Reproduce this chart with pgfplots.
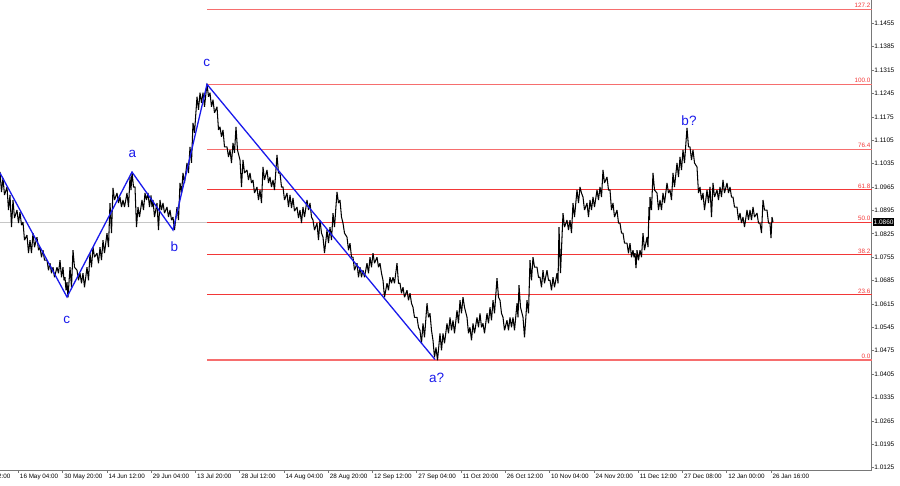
\documentclass[border=0pt]{standalone}
\usepackage{fontspec}
\setmainfont{Liberation Sans}
\usepackage{pgfplots}
\pgfplotsset{compat=1.18}
\definecolor{fibred}{RGB}{242,55,55}
\definecolor{fibpink}{RGB}{246,110,110}
\definecolor{wave}{RGB}{25,25,235}
\definecolor{axgray}{RGB}{120,120,120}

\pgfplotstableread{
x y
0 1.1010
1.5 1.0950
3 1.0992
4.5 1.0941
7 1.0965
8.5 1.0896
10 1.0941
11.5 1.0845
13 1.0926
14.5 1.0872
17 1.0896
18.5 1.0857
20 1.0890
21.5 1.0851
23 1.0860
24.5 1.0806
27 1.0821
28.5 1.0767
30 1.0806
31.5 1.0767
33 1.0827
34.5 1.0785
37 1.0815
38.5 1.0776
40 1.0785
41.5 1.0755
43 1.0776
44.5 1.0746
47 1.0746
48.5 1.0716
50 1.0737
51.5 1.0707
53 1.0725
54.5 1.0695
57 1.0725
58.5 1.0707
60 1.0746
61.5 1.0695
63 1.0725
64 1.0686
65 1.0695
66 1.0656
67 1.0680
68 1.0635
70 1.0725
71.5 1.0665
73 1.0776
74.5 1.0725
77 1.0716
78.5 1.0686
80 1.0707
81.5 1.0677
83 1.0707
84.5 1.0665
87 1.0725
88.5 1.0686
90 1.0767
91.5 1.0725
93 1.0785
94.5 1.0755
97 1.0767
98.5 1.0737
100 1.0785
101.5 1.0746
103 1.0806
104.5 1.0767
107 1.0827
108.5 1.0785
110 1.0917
111.5 1.0827
113 1.0962
114.5 1.0926
117 1.0947
118.5 1.0917
120 1.0935
121.5 1.0905
123 1.0926
124.5 1.0905
127 1.0947
128.5 1.0905
130 1.0995
131 1.0956
132 1.1010
133.5 1.0965
135 1.0965
136.5 1.0845
138 1.0905
139.5 1.0875
142 1.0926
143.5 1.0896
145 1.0947
146.5 1.0926
148 1.0947
149.5 1.0905
151 1.0940
152 1.0905
153 1.0926
154.5 1.0875
157 1.0917
158.5 1.0836
160 1.0926
161.5 1.0896
163 1.0917
164.5 1.0887
167 1.0905
168.5 1.0875
170 1.0896
171.5 1.0866
173 1.0875
174.5 1.0836
177 1.0905
178.5 1.0866
180 1.0977
181.5 1.0947
183 1.1007
184.5 1.0977
187 1.1037
188.5 1.1007
190 1.1085
191.5 1.1037
193 1.1157
194.5 1.1127
197 1.1235
198.5 1.1196
200 1.1247
201.5 1.1217
203 1.1247
204.5 1.1205
207 1.1274
208.5 1.1235
210 1.1247
211.5 1.1205
213 1.1226
214.5 1.1187
217 1.1205
218.5 1.1136
220 1.1145
221.5 1.1115
223 1.1136
224.5 1.1085
227 1.1085
228.5 1.1055
230 1.1076
231.5 1.1037
233 1.1097
234.5 1.1067
236 1.1145
237.5 1.1076
240 1.1046
241.5 1.0965
243 1.1046
244.5 1.1007
247 1.1016
248.5 1.0986
250 1.1007
251.5 1.0977
253 1.0986
254.5 1.0947
257 1.0965
258.5 1.0926
260 1.0956
261.5 1.0917
263 1.1025
264.5 1.0986
267 1.1016
268.5 1.0977
270 1.0995
271.5 1.0965
273 1.0986
274.5 1.0956
277 1.1061
278.5 1.1007
280 1.1007
281.5 1.0965
283 1.0965
284.5 1.0926
287 1.0947
288.5 1.0905
290 1.0941
291.5 1.0902
293 1.0932
294.5 1.0893
297 1.0905
298.5 1.0872
300 1.0896
301.5 1.0857
303 1.0905
304.5 1.0875
307 1.0926
308.5 1.0896
310 1.0917
311.5 1.0875
313 1.0866
314.5 1.0836
317 1.0857
318.5 1.0806
320 1.0866
321.5 1.0827
323 1.0815
324.5 1.0767
327 1.0836
328.5 1.0797
330 1.0845
331.5 1.0806
333 1.0887
334.5 1.0845
337 1.0950
338.5 1.0917
340 1.0926
341.5 1.0875
343 1.0857
344.5 1.0827
347 1.0815
348.5 1.0776
350 1.0797
351.5 1.0755
353 1.0755
354.5 1.0716
357 1.0737
358.5 1.0695
360 1.0725
361.5 1.0695
363 1.0716
364.5 1.0695
367 1.0737
368.5 1.0707
370 1.0755
371.5 1.0725
373 1.0767
374.5 1.0737
377 1.0755
378.5 1.0725
380 1.0737
381.5 1.0707
383 1.0686
384.5 1.0635
387 1.0677
388.5 1.0656
390 1.0695
391.5 1.0677
393 1.0695
394.5 1.0677
397 1.0737
398.5 1.0677
400 1.0677
401.5 1.0647
403 1.0665
404.5 1.0635
407 1.0656
408.5 1.0626
410 1.0647
411.5 1.0617
413 1.0605
414.5 1.0575
417 1.0575
418.5 1.0545
420 1.0536
421.5 1.0497
423 1.0557
424.5 1.0515
427 1.0617
428.5 1.0575
430 1.0587
431.5 1.0536
433 1.0506
434.5 1.0455
436 1.0485
437.5 1.0446
440 1.0527
441.5 1.0476
443 1.0527
444.5 1.0497
447 1.0557
448.5 1.0527
450 1.0575
451.5 1.0536
453 1.0566
454.5 1.0527
457 1.0596
458.5 1.0557
460 1.0626
461.5 1.0587
463 1.0635
464.5 1.0605
467 1.0575
468.5 1.0527
470 1.0545
471.5 1.0506
473 1.0557
474.5 1.0527
477 1.0575
478.5 1.0545
480 1.0587
481.5 1.0545
483 1.0557
484.5 1.0527
487 1.0587
488.5 1.0557
490 1.0605
491.5 1.0566
493 1.0626
494.5 1.0587
497 1.0692
498.5 1.0635
500 1.0626
501.5 1.0587
503 1.0575
504.5 1.0536
507 1.0566
508.5 1.0536
510 1.0575
511.5 1.0545
513 1.0575
514.5 1.0536
517 1.0617
518 1.0575
519 1.0671
520.5 1.0605
523 1.0575
524.5 1.0515
527 1.0626
528.5 1.0587
530 1.0746
531.5 1.0686
533 1.0755
534.5 1.0725
537 1.0725
538.5 1.0695
540 1.0695
541.5 1.0665
543 1.0716
544.5 1.0677
547 1.0716
548.5 1.0686
550 1.0686
551.5 1.0656
553 1.0695
554.5 1.0665
557 1.0707
558 1.0677
559 1.0845
560.5 1.0707
563 1.0887
564.5 1.0845
567 1.0866
568.5 1.0836
570 1.0866
571.5 1.0827
573 1.0917
574.5 1.0875
577 1.0956
578.5 1.0917
580 1.0965
581.5 1.0947
583 1.0935
584.5 1.0896
587 1.0917
588.5 1.0875
590 1.0926
591.5 1.0896
593 1.0935
594.5 1.0905
597 1.0956
598.5 1.0926
600 1.0965
601.5 1.0935
603 1.1016
604.5 1.0977
607 1.0995
608.5 1.0956
610 1.0956
611.5 1.0896
613 1.0917
614.5 1.0875
617 1.0896
618.5 1.0857
620 1.0857
621.5 1.0827
623 1.0827
624.5 1.0797
627 1.0797
628.5 1.0767
630 1.0797
631.5 1.0755
633 1.0776
634 1.0755
635 1.0767
636 1.0722
637 1.0776
638.5 1.0746
640 1.0776
641.5 1.0755
643 1.0827
644.5 1.0776
647 1.0815
648 1.0785
649 1.0905
649.5 1.0866
650 1.0935
651.5 1.0896
653 1.1007
654.5 1.0956
657 1.0947
658.5 1.0896
660 1.0926
661.5 1.0896
663 1.0947
664.5 1.0917
667 1.0977
668.5 1.0947
670 1.0956
671.5 1.0926
673 1.1007
674.5 1.0965
677 1.1037
678.5 1.0995
680 1.1055
681.5 1.1016
683 1.1076
684.5 1.1037
687 1.1142
688.5 1.1085
690 1.1085
691.5 1.1046
693 1.1076
694.5 1.1037
697 1.1025
698.5 1.0947
700 1.0965
701.5 1.0926
703 1.0947
704.5 1.0896
707 1.0956
708.5 1.0917
710 1.0965
711.5 1.0875
713 1.0977
714.5 1.0935
717 1.0956
718.5 1.0926
720 1.0965
721.5 1.0935
723 1.0986
724.5 1.0947
727 1.0977
728.5 1.0947
730 1.0965
731.5 1.0935
733 1.0935
734.5 1.0905
737 1.0905
738.5 1.0866
740 1.0887
741.5 1.0857
743 1.0875
744.5 1.0845
747 1.0896
748.5 1.0866
750 1.0896
751.5 1.0866
753 1.0905
754.5 1.0875
757 1.0887
758.5 1.0857
760 1.0857
761.5 1.0827
763 1.0926
764.5 1.0896
767 1.0896
768.5 1.0857
770 1.0857
771 1.0812
772 1.0875
773 1.0860
}\pricedata

\begin{document}
\begin{tikzpicture}
\begin{axis}[
  name=ax,
  at={(0,0)}, anchor=south west,
  scale only axis, width=871.7pt, height=470pt,
  xmin=0, xmax=871.7, ymin=1.01181, ymax=1.15247,
  axis x line*=bottom, axis y line*=right,
  axis line style={axgray, line width=0.8pt},
  clip=false,
  tick align=outside, major tick length=2.5pt,
  tick style={axgray, line width=0.6pt},
  xtick={18.3,62.57,106.84,151.11,195.38,239.65,283.92,328.19,372.46,416.73,461.0,505.27,549.54,593.81,638.08,682.35,726.62,770.89},
  xticklabels={16 May 04:00,30 May 20:00,14 Jun 12:00,29 Jun 04:00,13 Jul 20:00,28 Jul 12:00,14 Aug 04:00,28 Aug 20:00,12 Sep 12:00,27 Sep 04:00,11 Oct 20:00,26 Oct 12:00,10 Nov 04:00,24 Nov 20:00,11 Dec 12:00,27 Dec 08:00,12 Jan 00:00,26 Jan 16:00},
  xticklabel style={anchor=north west, font=\fontsize{6.3}{7}\selectfont, inner sep=0pt, xshift=1.5pt, yshift=-1pt},
  ytick={1.0125,1.0195,1.0265,1.0335,1.0405,1.0475,1.0545,1.0615,1.0685,1.0755,1.0825,1.0895,1.0965,1.1035,1.1105,1.1175,1.1245,1.1315,1.1385,1.1455,1.1525},
  yticklabels={1.0125,1.0195,1.0265,1.0335,1.0405,1.0475,1.0545,1.0615,1.0685,1.0755,1.0825,1.0895,1.0965,1.1035,1.1105,1.1175,1.1245,1.1315,1.1385,1.1455,1.1525},
  yticklabel style={anchor=west, font=\fontsize{6.5}{7}\selectfont, inner sep=0pt, xshift=0pt},
  /pgf/number format/assume math mode=true,
]
% current price line
\addplot[gray!45, line width=0.7pt] coordinates {(0,1.0860) (871.7,1.0860)};
% Fibonacci levels
\addplot[fibpink, line width=1.3pt] coordinates {(207,1.14968) (871.7,1.14968)};
\addplot[fibpink, line width=1.3pt] coordinates {(207,1.12724) (871.7,1.12724)};
\addplot[fibpink, line width=1.3pt] coordinates {(207,1.10777) (871.7,1.10777)};
\addplot[fibred, line width=1.1pt] coordinates {(207,1.09572) (871.7,1.09572)};
\addplot[fibred, line width=1.1pt] coordinates {(207,1.08599) (871.7,1.08599)};
\addplot[fibred, line width=1.1pt] coordinates {(207,1.07625) (871.7,1.07625)};
\addplot[fibred, line width=1.1pt] coordinates {(207,1.06420) (871.7,1.06420)};
\addplot[fibpink, line width=1.3pt] coordinates {(207,1.04473) (871.7,1.04473)};
% price
\addplot[black, line width=1.05pt, line join=bevel] table[x=x, y=y] {\pricedata};
% waves
\addplot[wave, line width=1.3pt] coordinates {(0,1.10070) (67,1.06358) (132,1.10099) (173,1.08364) (207,1.12724) (435,1.04488)};
% fib labels
\foreach \lv/\lab in {1.14968/127.2, 1.12724/100.0, 1.10777/76.4, 1.09572/61.8, 1.08599/50.0, 1.07625/38.2, 1.06420/23.6, 1.04473/0.0} {
  \edef\tmp{\noexpand\node[anchor=south east, inner sep=0pt, text=fibred, font=\noexpand\fontsize{6.3}{7}\noexpand\selectfont] at (axis cs:870.5,\lv) [yshift=1.2pt] {\lab};}
  \tmp
}
% wave labels
\node[text=wave, font=\fontsize{13.5}{15}\selectfont] at (axis cs:206.7,1.13362) {c};
\node[text=wave, font=\fontsize{13.5}{15}\selectfont] at (axis cs:132.3,1.10630) {a};
\node[text=wave, font=\fontsize{13.5}{15}\selectfont] at (axis cs:174.3,1.07864) {b};
\node[text=wave, font=\fontsize{13.5}{15}\selectfont] at (axis cs:66.7,1.05670) {c};
\node[text=wave, font=\fontsize{13.5}{15}\selectfont] at (axis cs:436.7,1.03925) {a?};
\node[text=wave, font=\fontsize{13.5}{15}\selectfont] at (axis cs:689,1.11626) {b?};
% current price box
\node[anchor=west, fill=black, text=white, inner sep=0.8pt, minimum height=8pt, font=\fontsize{6.5}{7}\selectfont] at (axis cs:872.7,1.0860) {1.0860};
% truncated first date label (cut by the left edge as in the original)
\node[anchor=north west, inner sep=0pt, font=\fontsize{6.3}{7}\selectfont] at (axis cs:-24.5,1.01181) [yshift=-3.5pt] {1 May 12:00};
\end{axis}
\pgfresetboundingbox
\path[use as bounding box] ([yshift=-15pt]ax.south west) rectangle ([xshift=28.3pt]ax.north east);
\end{tikzpicture}
\end{document}
